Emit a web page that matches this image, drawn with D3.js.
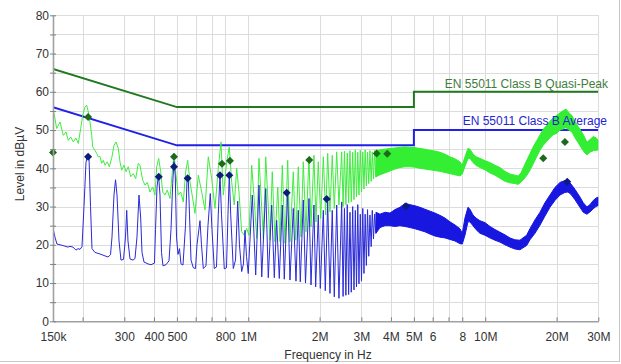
<!DOCTYPE html>
<html><head><meta charset="utf-8">
<script src="https://cdn.jsdelivr.net/npm/d3@7"></script>
<style>
body{margin:0;background:#fff;}
svg{display:block;font-family:"Liberation Sans",Arial,sans-serif;}
</style>
</head><body>
<svg id="chart" width="621" height="364"></svg>
<script>
// ---------- data (frequency in kHz, level in dBµV) ----------
const xTickValues = [150,200,300,400,500,600,700,800,1000,2000,3000,4000,5000,6000,7000,8000,10000,20000,30000];
const xTickLabels = {150:"150k",300:"300",400:"400",500:"500",800:"800",1000:"1M",2000:"2M",3000:"3M",4000:"4M",5000:"5M",6000:"6",8000:"8",10000:"10M",20000:"20M",30000:"30M"};
const yTickValues = [0,5,10,15,20,25,30,35,40,45,50,55,60,65,70,75,80];

const qpLimit = [[150,66],[500,56],[5000,56],[5000,60],[30000,60]];
const avLimit = [[150,56],[500,46],[5000,46],[5000,50],[30000,50]];
const qpLimitName = "EN 55011 Class B Quasi-Peak";
const avLimitName = "EN 55011 Class B Average";

const peakTrace = [[150,55.6],[152.9,53],[155.4,50.4],[160.6,52.1],[165.8,48.6],[170.2,49.5],[174,47.3],[178.1,48.2],[182.7,46.9],[187.5,47.9],[191.8,46.5],[196.3,50.4],[200.2,53.9],[204.7,56],[208.1,56.5],[211.4,54.7],[214.9,52.1],[218.5,48.6],[220.6,45.6],[225.6,44.7],[229.3,43.9],[233,43],[236.8,43.1],[240.7,41.3],[244.5,42.1],[248.6,40.8],[254.2,41.7],[259.2,40.4],[265.3,42.6],[271.3,46],[276.7,46.9],[282.9,45.2],[287.6,41.7],[292.4,39.5],[299,40.8],[304.9,39.1],[311.7,40.4],[319.2,37.8],[327.3,38.6],[335,37.3],[343.5,41.3],[349.3,40.8],[358.6,36.9],[366.7,35.6],[375,36.3],[384.9,33.8],[395.1,35.1],[404.1,33],[410.8,40.4],[418.8,42.6],[427.1,39.1],[435.5,33.8],[445.3,33],[455.4,34.3],[467.5,32.1],[476.7,38.2],[486,43.9],[495.6,38.2],[506.8,33],[518.7,33.8],[532,31.2],[544.5,39.1],[555.2,42.1],[567.8,36.4],[582.9,32.1],[596,28.2],[615.4,38.2],[636.1,33.8],[656.8,29.1],[678.2,43],[701,37.3],[723.8,29.5],[747.4,40],[767.3,46.9],[784.7,33],[811,41.7],[831.7,45.6],[851.3,36.4],[873.2,30.4],[893.7,40],[913.9,33.8],[938.1,23.4],[962.3,22.5],[984.9,24.3],[1007,22.5],[1034,40.8],[1061,31.2],[1086,21.7],[1110,42.6],[1158,21.7],[1185,43],[1235,21.2],[1263,39.1],[1297,20.8],[1332,35.1],[1361,20.8],[1392,40.8],[1429,20.4],[1467,42.1],[1500,20.8],[1549,39.1],[1586,21.2],[1626,40.4],[1669,22.1],[1707,41.7],[1752,23.4],[1804,43],[1840,24.7],[1893,43.4],[1931,26],[1975,41.7],[2022,26.9],[2074,43],[2122,27.8],[2164,43.9],[2212,28.6],[2262,43.4],[2307,29.5],[2362,44.3],[2414,30.4],[2479,44.3],[2513,30],[2546,44.5],[2582,30.5],[2617,44],[2652,31],[2687,44.6],[2721,31.2],[2759,44.2],[2794,31.8],[2830,44.8],[2863,32.5],[2899,44.2],[2932,33],[2970,44.7],[3005,33.8],[3043,44.3],[3078,34.6],[3114,44.8],[3151,35.4],[3187,44.2],[3225,36],[3263,44.6],[3301,36.6],[3337,44.3],[3376,37.2],[3413,44.7],[3453,37.6]];

// dense part of the peak trace: [kHz, lower edge, upper edge]
const peakBand = [[3459,37.8,44.7],[3596,38.3,44.8],[3775,38.8,45],[3963,39.3,45.2],[4160,39.8,45.3],[4367,40.2,45.5],[4585,40.4,45.6],[4813,40.4,45.5],[5052,40.3,45.4],[5304,40,45.2],[5568,39.8,45],[5845,39.6,44.7],[6136,39.4,44.5],[6441,39.2,44.2],[6762,38.9,43.7],[7099,38.6,43],[7452,38.3,42.5],[7823,38,41.7],[8000,38.5,40.8],[8212,40.5,43],[8455,42.5,45.2],[8621,42.6,45],[8876,41.5,43.8],[9139,40.8,43],[9500,40.2,42.6],[9973,39.6,42],[10470,38.8,41.5],[10991,38.2,40.8],[11538,37.4,40.2],[12112,36.6,39.2],[12715,36.2,38.5],[13348,36,38.2],[13783,35.8,38],[14150,36.4,38.8],[14567,37.2,40.5],[14998,38.2,42.2],[15442,39.5,43.8],[15899,41,45.5],[16479,43,47.2],[17017,44.7,48.7],[17572,46,50.2],[18161,47,51.2],[18754,48,52.3],[19366,48.8,53.2],[20014,49.1,53.8],[20667,50,54.5],[21279,50.3,55],[21909,50.6,55.5],[22555,50,54.5],[23222,49.5,53.8],[23909,48,52.3],[24617,46.8,51],[25345,45.5,49.8],[26093,44.3,48.5],[26865,43.5,46.8],[27660,44.2,47.5],[28563,44.6,48.3],[29322,44.7,48],[30000,44.8,47.3]];

const avgTrace = [[150,24.3],[152.9,22],[155.9,20.2],[165.4,19.8],[173.5,19.4],[176.9,19.6],[182.1,19.4],[187.5,18.6],[191.2,19.0],[195,18.8],[198.8,19.5],[202.7,30],[206.7,41.5],[209.8,43.5],[212.8,43],[216,30],[219.1,19],[225.6,18],[236.8,17.6],[246.2,17.2],[256,16.8],[262.3,17.4],[266.1,22],[271.3,33],[275.4,37],[279.4,33],[284.9,21],[290.4,16],[297.6,16.2],[303.4,22],[307,29],[310.8,21],[317,16.3],[326.4,16],[332.7,16.4],[339.2,22],[345.9,33],[351.7,27],[356.2,18],[363.1,15.5],[377.6,15],[388.7,14.8],[402.1,15.2],[406.1,24],[412,35],[418.1,38.4],[424.2,33],[430.4,18],[436.8,14.5],[449.7,14.8],[463,15.8],[472.1,24],[479.9,36],[486,41.8],[492.2,38],[498,22],[505.3,17.5],[512.6,19],[520.2,15],[530.4,14.7],[543.5,25],[551.4,36.5],[558,37.9],[565,28],[573.4,16],[586.3,14],[599,13.8],[607.7,20],[625.7,26.3],[634.9,20],[646.1,13.8],[663.2,14.5],[676.2,25],[691.6,33.4],[703,24],[718.9,13.8],[734.4,14.2],[747.4,28],[759.9,38.5],[771,28],[792.3,13.7],[809.4,14],[821.3,28],[831.7,38.5],[843.1,28],[864.7,13.8],[883.5,16],[902.5,31.4],[918.2,20],[938.1,13],[954.3,15],[968.8,23.8],[983,17],[1000,12.5],[1040,33],[1075,12.1],[1110,35.6],[1140,11.6],[1185,34.7],[1215,11.4],[1256,30.4],[1288,11.4],[1318,26.4],[1352,11.2],[1392,30.4],[1419,11],[1467,33.8],[1500,10.8],[1549,29.5],[1590,10.5],[1626,29],[1658,10.3],[1707,31.7],[1744,10],[1804,32.1],[1840,9.5],[1893,30.4],[1925,9],[1975,27.8],[2014,8.6],[2074,29],[2114,8],[2164,31.2],[2212,7.3],[2262,29],[2307,6.4],[2362,30.4],[2414,6],[2479,31.2],[2513,6.5],[2546,29.5],[2582,6.8],[2617,30.5],[2652,7],[2687,28.5],[2721,7.6],[2759,30],[2794,8.2],[2830,29],[2863,9],[2899,30.5],[2932,9.8],[2970,28],[3005,10.5],[3043,29.5],[3078,12.5],[3114,28],[3151,14.6],[3187,29.2],[3225,17],[3263,27.8],[3301,19.5],[3337,29],[3376,21.5],[3413,28],[3453,23]];

// dense part of the average trace: [kHz, lower edge, upper edge]
const avgBand = [[3459,23,28.5],[3596,24.5,28],[3775,25,28.5],[3963,25,28.3],[4160,24.8,29.2],[4367,25,29.8],[4585,24.8,30.8],[4813,24.5,30.5],[5052,24.2,30.2],[5304,23.8,29.8],[5568,23.4,29.3],[5845,22.8,28.8],[6136,22.3,28.3],[6441,22,27.7],[6762,21.8,27],[7099,21.4,26],[7452,21,25.2],[7823,20.3,24.2],[8000,20.2,23],[8212,22.5,27],[8455,26,29.8],[8621,26,29.3],[8876,25,27.8],[9139,24,27],[9500,23,26.3],[9973,22.5,25.8],[10470,21.8,24.8],[10991,21.2,24],[11538,20.7,23.3],[12112,20,22.6],[12715,19.4,21.8],[13348,18.9,21.3],[14013,18.7,21.2],[14428,19.2,21.8],[14954,19.8,22.5],[15442,21.3,24.2],[16210,23,26.5],[17017,25.1,28.5],[17864,27.5,31],[18754,29.8,33],[19687,31.6,35],[20667,33,36.3],[21696,33.7,36.8],[22338,33.8,36.7],[23000,33.2,35.9],[23909,31.8,34.5],[25099,29.8,32.5],[25919,28.5,31],[26865,28,29.9],[27660,28.6,30.5],[28563,29.4,31.6],[29322,30,32.2],[30000,30.3,32.5]];

const qpMarkers = [[150,44.1],[211,53.4],[486,43.0],[775,41.2],[837,42.0],[1809,42.2],[3483,43.9],[3860,43.8],[17572,42.6],[21696,46.9]];
const avMarkers = [[211,43.0],[419,37.8],[486,40.4],[555,37.4],[760,38.2],[832,38.2],[1453,33.6],[2143,32.0],[4630,30.1],[22186,36.5]];

// ---------- drawing ----------
const svg = d3.select("#chart");
const x = d3.scaleLog().domain([150,30000]).range([53,598.3]);
const y = d3.scaleLinear().domain([0,80]).range([321.3,15.3]);

// outer frame (right & bottom)
svg.append("line").attr("x1",619.5).attr("x2",619.5).attr("y1",0).attr("y2",362).attr("stroke","#c8c8c8");
svg.append("line").attr("x1",0).attr("x2",620).attr("y1",361.5).attr("y2",361.5).attr("stroke","#c8c8c8");

// grid
const grid = svg.append("g").attr("stroke","#dcdcdc").attr("stroke-width",1);
grid.selectAll("line.v").data(xTickValues).join("line")
  .attr("x1",d=>Math.round(x(d))+0.5).attr("x2",d=>Math.round(x(d))+0.5)
  .attr("y1",y(80)).attr("y2",y(0));
grid.selectAll("line.h").data(yTickValues).join("line")
  .attr("y1",d=>Math.round(y(d))+0.5).attr("y2",d=>Math.round(y(d))+0.5)
  .attr("x1",x(150)).attr("x2",x(30000));

svg.append("defs").append("clipPath").attr("id","plot")
  .append("rect").attr("x",53).attr("y",y(80)).attr("width",x(30000)-53).attr("height",y(0)-y(80));

const line = d3.line().x(d=>x(d[0])).y(d=>y(d[1]));
const band = d3.area().x(d=>x(d[0])).y0(d=>y(d[1])).y1(d=>y(d[2]));

const plot = svg.append("g").attr("clip-path","url(#plot)");

// limit lines
plot.append("path").datum(qpLimit).attr("d",line).attr("fill","none").attr("stroke","#1f7a1f").attr("stroke-width",2);
plot.append("path").datum(avLimit).attr("d",line).attr("fill","none").attr("stroke","#2020e8").attr("stroke-width",2);

// peak trace (green)
plot.append("path").datum(peakTrace).attr("d",line).attr("fill","none").attr("stroke","#3fec3f").attr("stroke-width",1);
plot.append("path").datum(peakBand).attr("d",band).attr("fill","#33ee33").attr("stroke","#33ee33").attr("stroke-width",1);

// average trace (blue)
plot.append("path").datum(avgTrace).attr("d",line).attr("fill","none").attr("stroke","#2a2ad8").attr("stroke-width",1);
plot.append("path").datum(avgBand).attr("d",band).attr("fill","#1717e0").attr("stroke","#1717e0").attr("stroke-width",1);

// limit labels
svg.append("text").attr("x",608).attr("y",88).attr("text-anchor","end").attr("font-size",12)
  .attr("fill","#3d7d3d").text(qpLimitName);
svg.append("text").attr("x",607).attr("y",125).attr("text-anchor","end").attr("font-size",12)
  .attr("fill","#2424d0").text(avLimitName);

// markers
const diamond = "M0,-4L4,0L0,4L-4,0Z";
svg.append("g").selectAll("path").data(qpMarkers).join("path")
  .attr("d",diamond).attr("transform",d=>`translate(${x(d[0])},${y(d[1])})`).attr("fill","#1d6a1d");
svg.append("g").selectAll("path").data(avMarkers).join("path")
  .attr("d",diamond).attr("transform",d=>`translate(${x(d[0])},${y(d[1])})`).attr("fill","#0c1c7c");

// axes
const xAxis = d3.axisBottom(x).tickValues(xTickValues).tickFormat(d=>xTickLabels[d]||"")
  .tickSizeInner(-4).tickSizeOuter(0).tickPadding(11);
const gx = svg.append("g").attr("transform",`translate(0,${y(0)})`).call(xAxis);
const yAxis = d3.axisLeft(y).tickValues(yTickValues).tickFormat(d=>d%10===0?d:"")
  .tickSizeInner(3).tickSizeOuter(0).tickPadding(1);
const gy = svg.append("g").attr("transform",`translate(53,0)`).call(yAxis);
[gx,gy].forEach(g=>{
  g.select(".domain").attr("stroke","#a0a0a0").attr("stroke-width",1.6);
  g.selectAll(".tick line").attr("stroke","#808080");
  g.selectAll(".tick text").attr("fill","#333").attr("font-size",12)
   .attr("font-family","'Liberation Sans',Arial,sans-serif");
});
gy.selectAll(".tick").append("line").attr("x1",0).attr("x2",3).attr("stroke","#808080");

// axis titles
svg.append("text").attr("transform","translate(24,164) rotate(-90)").attr("text-anchor","middle")
  .attr("font-size",12).attr("fill","#333").text("Level in dBµV");
svg.append("text").attr("x",328).attr("y",359).attr("text-anchor","middle")
  .attr("font-size",12).attr("fill","#333").text("Frequency in Hz");
</script>
</body></html>
